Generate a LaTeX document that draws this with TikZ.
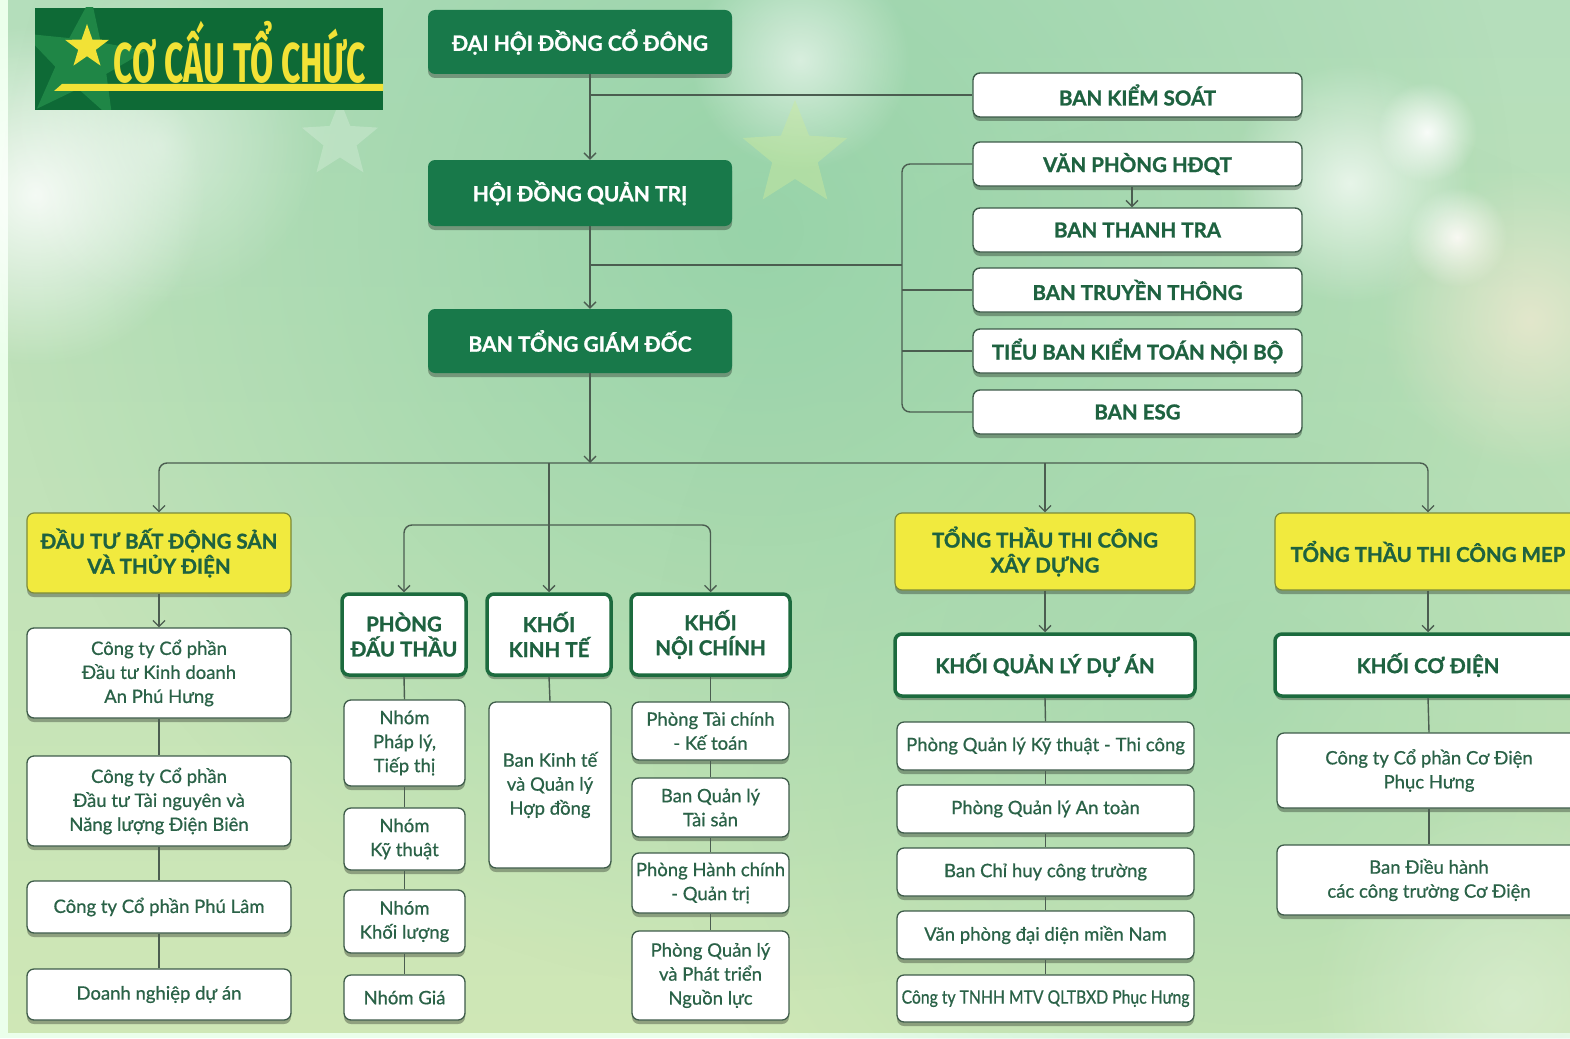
\documentclass[tikz,border=0pt]{standalone}
\usepackage{fontspec}
\setmainfont{Lato}
\newfontfamily\titlefont{Fira Sans}[FakeStretch=0.6]
\usetikzlibrary{arrows.meta,shapes.geometric,shadows,fadings}
\definecolor{dg}{HTML}{18794A}
\definecolor{tg}{HTML}{0E6A36}
\definecolor{tstar}{HTML}{1F8646}
\definecolor{ty}{HTML}{F2E236}
\definecolor{wb}{HTML}{3E5C4A}
\definecolor{thk}{HTML}{1C6B3E}
\definecolor{hdtext}{HTML}{1E6240}
\definecolor{bodytext}{HTML}{2A6247}
\definecolor{yl}{HTML}{F1EA3E}
\definecolor{ylb}{HTML}{7C8B3A}
\definecolor{ln}{HTML}{4B5D50}
\definecolor{bgtop}{HTML}{B4DEBB}
\definecolor{bgbot}{HTML}{CFE7B6}
\definecolor{mint}{HTML}{92D1A6}
\tikzfading[name=soft,inner color=transparent!0,outer color=transparent!100]
\newcommand\bx[7]{\node[#2, minimum width={#5-#3}, minimum height={#6-#4}] (#1) at ({(#3+#5)/2},{(#4+#6)/2}) {#7};}
\newcommand\hfnt{\fontsize{20.5}{25}\selectfont\bfseries\addfontfeature{FakeBold=1.2}}
\newcommand\bfnt{\fontsize{18.5}{24}\selectfont\addfontfeature{FakeBold=0.7}}
\tikzset{
  shd/.style={drop shadow={shadow xshift=0pt,shadow yshift=-4pt,opacity=0.3,fill=black}},
  base/.style={rounded corners=7pt, align=center, inner sep=2pt},
  dbox/.style={base, fill=dg, text=white, font=\fontsize{21}{25}\selectfont\bfseries\addfontfeature{FakeBold=1.2}, shd},
  wbox/.style={base, fill=white, draw=wb, line width=1.4pt, text=hdtext, font=\hfnt, shd},
  ybox/.style={base, fill=yl, draw=ylb, line width=1.2pt, text=hdtext, font=\hfnt, shd},
  tbox/.style={base, fill=white, draw=thk, line width=3.5pt, text=hdtext, font=\hfnt, shd},
  sbox/.style={base, fill=white, draw=wb, line width=1.3pt, text=bodytext, font=\bfnt, shd},
  conn/.style={draw=ln, line width=1.4pt},
  arr/.style={conn, -{Straight Barb[length=6pt,width=12pt,line width=1.3pt]}},
}
\begin{document}
\begin{tikzpicture}[x=1pt,y=-1pt]
\useasboundingbox (0,0) rectangle (1570,1038);
\clip (0,0) rectangle (1570,1038);
% background
\fill[white!92!green] (0,0) rectangle (1570,1038);
\shade[top color=bgtop, bottom color=bgbot] (8,0) rectangle (1570,1032);
\fill[mint, opacity=0.85, path fading=soft] (760,230) circle (760);
\fill[mint!70!bgtop, opacity=0.6, path fading=soft] (1250,700) circle (600);
\fill[white, opacity=0.85, path fading=soft] (35,195) circle (170);
\fill[white, opacity=0.45, path fading=soft] (160,145) circle (160);
\fill[white, opacity=0.7, path fading=soft] (1350,183) circle (120);
\fill[white, opacity=0.9, path fading=soft] (1427,132) circle (50);
\fill[white, opacity=0.9, path fading=soft] (1457,237) circle (50);
\fill[white!85!orange, opacity=0.6, path fading=soft] (1530,320) circle (150);
\fill[white, opacity=0.3, path fading=soft] (1510,1000) circle (200);
\fill[white, opacity=0.6, path fading=soft] (800,60) circle (110);
\node[star, star points=5, star point ratio=2.3, fill=yellow!50!green!40, opacity=0.45, minimum size=110pt, inner sep=0] (bgstar1) at (795,155) {};
\node[star, star points=5, star point ratio=2.3, fill=white, opacity=0.22, minimum size=80pt, inner sep=0] (bgstar2) at (340,140) {};
% title
\begin{scope}
\clip (35,8) rectangle (383,110);
\fill[tg] (35,8) rectangle (383,110);
\node[star, star points=5, star point ratio=2.4, fill=tstar, minimum size=130pt, inner sep=0, rotate=-8] (bigstar) at (82,62) {};
\fill[ty] (62,84) -- (383,84) -- (383,91) -- (54,91) -- cycle;
\end{scope}
\node[star, star points=5, star point ratio=2.5, fill=ty, minimum size=46pt, inner sep=0] (ystar) at (87,47) {};
\node[text=ty, font=\titlefont\bfseries\fontsize{56}{60}\selectfont, inner sep=0] (title) at (240,52) {CƠ CẤU TỔ CHỨC};
% top chain
\bx{dh}{dbox}{428}{10}{732}{74}{ĐẠI HỘI ĐỒNG CỔ ĐÔNG}
\bx{hd}{dbox}{428}{160}{732}{226}{HỘI ĐỒNG QUẢN TRỊ}
\bx{btg}{dbox}{428}{309}{732}{373}{BAN TỔNG GIÁM ĐỐC}
% right boards
\bx{bks}{wbox}{973}{73}{1302}{117}{BAN KIỂM SOÁT}
\bx{vp}{wbox}{973}{142}{1302}{186}{VĂN PHÒNG HĐQT}
\bx{btt}{wbox}{973}{208}{1302}{252}{BAN THANH TRA}
\bx{btrt}{wbox}{973}{268}{1302}{312}{BAN TRUYỀN THÔNG}
\bx{tb}{wbox}{973}{329}{1302}{373}{TIỂU BAN KIỂM TOÁN NỘI BỘ}
\bx{esg}{wbox}{973}{390}{1302}{434}{BAN ESG}
% left column
\bx{ytd}{ybox}{27}{513}{291}{593}{ĐẦU TƯ BẤT ĐỘNG SẢN\\VÀ THỦY ĐIỆN}
\bx{c1}{sbox}{27}{628}{291}{718}{Công ty Cổ phần\\Đầu tư Kinh doanh\\An Phú Hưng}
\bx{c2}{sbox}{27}{756}{291}{846}{Công ty Cổ phần\\Đầu tư Tài nguyên và\\Năng lượng Điện Biên}
\bx{c3}{sbox}{27}{881}{291}{933}{Công ty Cổ phần Phú Lâm}
\bx{c4}{sbox}{27}{969}{291}{1020}{Doanh nghiệp dự án}
% phong dau thau
\bx{pdt}{tbox}{342}{594}{466}{675}{PHÒNG\\ĐẤU THẦU}
\bx{n1}{sbox}{344}{700}{465}{786}{Nhóm\\Pháp lý,\\Tiếp thị}
\bx{n2}{sbox}{344}{808}{465}{870}{Nhóm\\Kỹ thuật}
\bx{n3}{sbox}{344}{890}{465}{953}{Nhóm\\Khối lượng}
\bx{n4}{sbox}{344}{975}{465}{1020}{Nhóm Giá}
% khoi kinh te
\bx{kkt}{tbox}{487}{594}{611}{675}{KHỐI\\KINH TẾ}
\bx{bkt}{sbox}{489}{702}{611}{868}{Ban Kinh tế\\và Quản lý\\Hợp đồng}
% khoi noi chinh
\bx{knc}{tbox}{631}{594}{790}{675}{KHỐI\\NỘI CHÍNH}
\bx{p1}{sbox}{632}{702}{789}{760}{Phòng Tài chính\\- Kế toán}
\bx{p2}{sbox}{632}{778}{789}{837}{Ban Quản lý\\Tài sản}
\bx{p3}{sbox}{632}{853}{789}{913}{Phòng Hành chính\\- Quản trị}
\bx{p4}{sbox}{632}{931}{789}{1020}{Phòng Quản lý\\và Phát triển\\Nguồn lực}
% tong thau xay dung
\bx{xd}{ybox}{895}{513}{1195}{590}{TỔNG THẦU THI CÔNG\\XÂY DỰNG}
\bx{kql}{tbox}{895}{634}{1195}{696}{KHỐI QUẢN LÝ DỰ ÁN}
\bx{q1}{sbox}{897}{722}{1194}{770}{Phòng Quản lý Kỹ thuật - Thi công}
\bx{q2}{sbox}{897}{785}{1194}{833}{Phòng Quản lý An toàn}
\bx{q3}{sbox}{897}{848}{1194}{896}{Ban Chỉ huy công trường}
\bx{q4}{sbox}{897}{911}{1194}{959}{Văn phòng đại diện miền Nam}
\bx{q5}{sbox}{897}{975}{1194}{1022}{\scalebox{0.85}[1]{Công ty TNHH MTV QLTBXD Phục Hưng}}
% MEP
\bx{mep}{ybox}{1275}{513}{1581}{590}{TỔNG THẦU THI CÔNG MEP}
\bx{kcd}{tbox}{1275}{634}{1581}{696}{KHỐI CƠ ĐIỆN}
\bx{m1}{sbox}{1277}{733}{1581}{808}{Công ty Cổ phần Cơ Điện\\Phục Hưng}
\bx{m2}{sbox}{1277}{845}{1581}{915}{Ban Điều hành\\các công trường Cơ Điện}
% connectors
\coordinate (xa) at (590,0);
\coordinate (j1) at (590,95);
\coordinate (j2) at (590,265);
\coordinate (jx) at (902,265);
\coordinate (j3) at (590,463);
\coordinate (j4) at (549,525);
\coordinate (xv) at (1132,0);
\draw[arr] (dh.south -| xa) -- (hd.north -| xa);
\draw[conn] (j1) -- (bks.west);
\draw[arr] (hd.south -| xa) -- (btg.north -| xa);
\draw[conn] (j2) -- (jx);
\draw[conn,rounded corners=8pt] (vp.west) -| (jx) |- (esg.west);
\draw[conn] (jx |- btrt.west) -- (btrt.west);
\draw[conn] (jx |- tb.west) -- (tb.west);
\draw[arr] (vp.south -| xv) -- (btt.north -| xv);
\draw[arr] (btg.south -| xa) -- (j3);
\draw[arr,rounded corners=8pt] (j3) -| (ytd.north);
\draw[arr,rounded corners=8pt] (j3) -| (mep.north);
\draw[arr] (j3 -| xd.north) -- (xd.north);
\draw[arr] (j3 -| kkt.north) -- (kkt.north);
\draw[arr,rounded corners=8pt] (j4) -| (pdt.north);
\draw[arr,rounded corners=8pt] (j4) -| (knc.north);
\draw[arr] (ytd.south) -- (c1.north);
\draw[conn] (c1.south) -- (c2.north);
\draw[conn] (c2.south) -- (c3.north);
\draw[conn] (c3.south) -- (c4.north);
\draw[conn] (pdt.south) -- (n1.north);
\draw[conn] (n1.south) -- (n2.north);
\draw[conn] (n2.south) -- (n3.north);
\draw[conn] (n3.south) -- (n4.north);
\draw[conn] (kkt.south) -- (bkt.north);
\draw[conn] (knc.south) -- (p1.north);
\draw[conn] (p1.south) -- (p2.north);
\draw[conn] (p2.south) -- (p3.north);
\draw[conn] (p3.south) -- (p4.north);
\draw[arr] (xd.south) -- (kql.north);
\draw[conn] (kql.south) -- (q1.north);
\draw[conn] (q1.south) -- (q2.north);
\draw[conn] (q2.south) -- (q3.north);
\draw[conn] (q3.south) -- (q4.north);
\draw[conn] (q4.south) -- (q5.north);
\draw[arr] (mep.south) -- (kcd.north);
\draw[conn] (kcd.south) -- (m1.north);
\draw[conn] (m1.south) -- (m2.north);
\end{tikzpicture}
\end{document}
